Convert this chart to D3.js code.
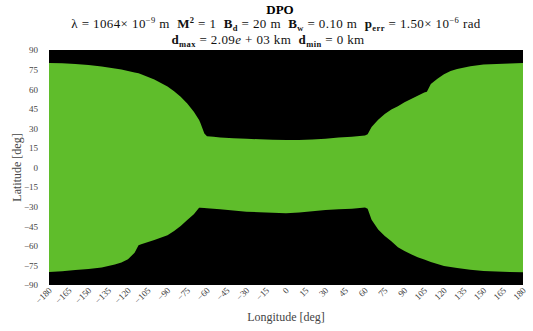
<!DOCTYPE html>
<html><head><meta charset="utf-8">
<script src="https://cdn.jsdelivr.net/npm/d3@7"></script>
<style>body{margin:0;background:#fff}svg{display:block}text{font-family:"Liberation Serif","DejaVu Serif",serif;white-space:pre}</style>
</head><body><div id="chart"></div>
<script>
const longitudes = [-180,-170,-160,-150,-140,-130,-125,-120,-115,-112,-110,-100,-90,-85,-80,-75,-70,-66,-65,-62,-60,-55,-50,-40,-30,-20,-10,0,10,20,30,40,50,60,62,65,70,75,80,85,90,95,100,105,107,110,115,120,125,130,140,150,160,170,180];
const upperLat = [80,79.8,79.3,78.5,77.3,75.8,75,74,72.8,72.2,71.5,67.5,62,58.5,54.2,49.1,42.7,36.4,34,26,24,23.5,23,22.5,22,21.6,21.2,21,21,21.5,22,23,23.5,24.5,25.5,31,36.5,41,44.5,47,50,52.5,55,57.5,58,64,68,71.5,74,75.5,77.5,78.8,79.3,79.7,80];
const lowerLat = [-80,-79.4,-78.6,-77.8,-76.6,-74.3,-72.7,-70.3,-65.3,-59.6,-58.7,-55.6,-51.8,-48.7,-44.9,-40.3,-35.9,-30.8,-30.8,-31,-31.2,-31.6,-32,-33,-33.8,-34.3,-34.6,-35,-34.5,-33.5,-32.5,-32,-31.5,-30.7,-31.5,-40,-47.5,-52.5,-56.5,-61,-64,-66.5,-68.8,-70.5,-71.2,-72.3,-74,-75.5,-76.3,-77,-78.3,-79.2,-79.7,-80,-80.3];
const xTicks = [-180,-165,-150,-135,-120,-105,-90,-75,-60,-45,-30,-15,0,15,30,45,60,75,90,105,120,135,150,165,180];
const yTicks = [-90,-75,-60,-45,-30,-15,0,15,30,45,60,75,90];

const W = 533, H = 331;
const m = {left:49, right:10, top:50, bottom:46};
const svg = d3.select("#chart").append("svg").attr("width",W).attr("height",H);
const x = d3.scaleLinear().domain([-180,180]).range([m.left, W-m.right]);
const y = d3.scaleLinear().domain([-90,90]).range([H-m.bottom, m.top]);

svg.append("rect").attr("x",x(-180)).attr("y",y(90)).attr("width",x(180)-x(-180)).attr("height",y(-90)-y(90)).attr("fill","#000");

const pts = longitudes.map((d,i)=>({lon:d, up:upperLat[i], lo:lowerLat[i]}));
svg.append("path").datum(pts).attr("d", d3.area().x(d=>x(d.lon)).y0(d=>y(d.lo)).y1(d=>y(d.up))).attr("fill","#5fbd2b");

// axes
const gx = svg.append("g").attr("transform",`translate(0,${y(-90)})`)
  .call(d3.axisBottom(x).tickValues(xTicks).tickSize(0).tickFormat(d3.format("d")));
gx.attr("font-family",null).attr("font-size",null);
gx.select(".domain").remove();
gx.selectAll("text").attr("font-size",9).attr("fill","#444").attr("text-anchor","end")
  .attr("dy",null).attr("y",0).attr("transform","translate(3,6) rotate(-45)");
const gy = svg.append("g").attr("transform",`translate(${x(-180)},0)`)
  .call(d3.axisLeft(y).tickValues(yTicks).tickSize(0).tickFormat(d3.format("d")));
gy.attr("font-family",null).attr("font-size",null);
gy.select(".domain").remove();
gy.selectAll("text").attr("font-size",9).attr("fill","#444").attr("x",-11);

svg.append("text").attr("x",x(0)).attr("y",321).attr("text-anchor","middle").attr("font-size",12).attr("fill","#444").text("Longitude [deg]");
svg.append("text").attr("transform",`translate(21,${(y(90)+y(-90))/2}) rotate(-90)`).attr("text-anchor","middle").attr("font-size",12).attr("fill","#444").text("Latitude [deg]");

// title
svg.append("text").attr("x",280).attr("y",14).attr("text-anchor","middle").attr("font-size",13).attr("font-weight","bold").text("DPO");
const t2 = svg.append("text").attr("x",276).attr("y",28).attr("text-anchor","middle").attr("font-size",13).attr("letter-spacing",0.4).attr("fill","#111");
function part(t, s, opt={}) {
  const ts = t.append("tspan").text(s);
  if (opt.b) ts.attr("font-weight","bold");
  if (opt.sub) ts.attr("font-size",8.5).attr("dy",2.5);
  if (opt.sup) ts.attr("font-size",8.5).attr("dy",-5);
  if (opt.back) ts.attr("dy",opt.back);
  if (opt.i) ts.attr("font-style","italic");
  return ts;
}
part(t2,"λ = 1064× 10");
part(t2,"−9",{sup:true});
part(t2," m  ",{back:5});
part(t2,"M",{b:true});
part(t2,"2",{sup:true,b:true});
part(t2," = 1  ",{back:5});
part(t2,"B",{b:true});
part(t2,"d",{sub:true,b:true});
part(t2," = 20 m  ",{back:-2.5});
part(t2,"B",{b:true});
part(t2,"w",{sub:true,b:true});
part(t2," = 0.10 m  ",{back:-2.5});
part(t2,"p",{b:true});
part(t2,"err",{sub:true,b:true});
part(t2," = 1.50× 10",{back:-2.5});
part(t2,"−6",{sup:true});
part(t2," rad",{back:5});

const t3 = svg.append("text").attr("x",268).attr("y",44).attr("text-anchor","middle").attr("font-size",13).attr("letter-spacing",0.4).attr("fill","#111");
part(t3,"d",{b:true});
part(t3,"max",{sub:true,b:true});
part(t3," = 2.09",{back:-2.5});
part(t3,"e",{i:true});
part(t3," + 03 km  ");
part(t3,"d",{b:true});
part(t3,"min",{sub:true,b:true});
part(t3," = 0 km",{back:-2.5});
</script></body></html>
